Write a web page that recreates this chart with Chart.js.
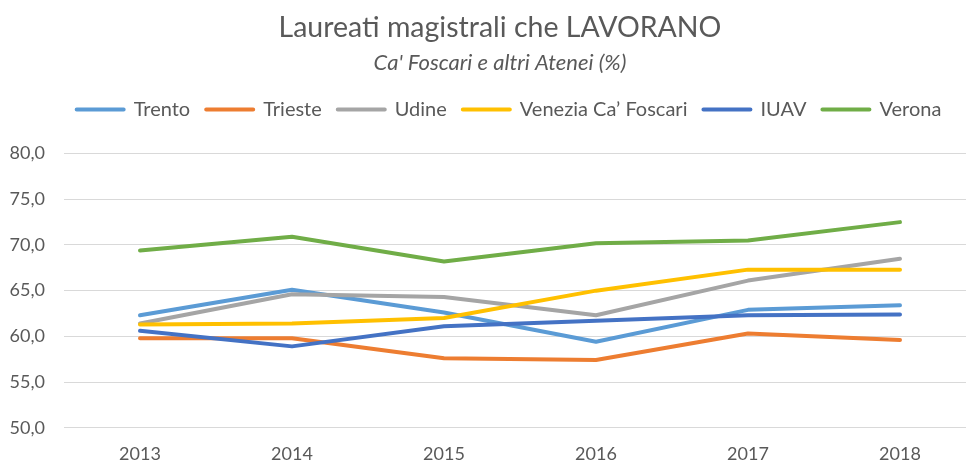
<!DOCTYPE html>
<html>
<head>
<meta charset="utf-8">
<script src="https://cdn.jsdelivr.net/npm/chart.js@4"></script>
<style>
    html, body { margin: 0; padding: 0; background: #fff; overflow: hidden; }
    #wrap { width: 1015px; height: 464px; }
</style>
</head>
<body>
<div id="wrap"><canvas id="chart" width="1015" height="464"></canvas></div>
<script>
// Values
const years = ['2013', '2014', '2015', '2016', '2017', '2018'];
const trento = [62.3, 65.1, 62.6, 59.4, 62.9, 63.4];
const trieste = [59.8, 59.8, 57.6, 57.4, 60.3, 59.6];
const udine = [61.4, 64.6, 64.3, 62.3, 66.1, 68.5];
const venezia = [61.3, 61.4, 62.0, 65.0, 67.3, 67.3];
const iuav = [60.6, 58.9, 61.1, 61.7, 62.3, 62.4];
const verona = [69.4, 70.9, 68.2, 70.2, 70.5, 72.5];
const yTicks = [50, 55, 60, 65, 70, 75, 80];

const textColor = '#595959';
const fontFamily = 'Lato, "Open Sans", sans-serif';

const series = [
    { label: 'Trento', data: trento, color: '#5B9BD5' },
    { label: 'Trieste', data: trieste, color: '#ED7D31' },
    { label: 'Udine', data: udine, color: '#A5A5A5' },
    { label: 'Venezia Ca\u2019 Foscari', data: venezia, color: '#FFC000' },
    { label: 'IUAV', data: iuav, color: '#4472C4' },
    { label: 'Verona', data: verona, color: '#70AD47' }
];

const datasets = series.map((s, i) => ({
    label: s.label,
    data: s.data,
    borderColor: s.color,
    backgroundColor: s.color,
    borderWidth: 4,
    borderCapStyle: 'round',
    borderJoinStyle: 'round',
    pointRadius: 0,
    tension: 0,
    fill: false,
    order: series.length - i // later series drawn on top, like the original
}));

// extra room under the legend, and title/legend centred a bit to the right
const headerTweaks = {
    id: 'headerTweaks',
    beforeInit(chart) {
        const fit = chart.legend.fit;
        chart.legend.fit = function () {
            fit.bind(chart.legend)();
            this.height += 24;
        };
    },
    afterLayout(chart) {
        chart.boxes.forEach(box => {
            if (box.position === 'top' && !box.axis) {
                box.left += (box === chart.legend) ? 42 : 24;
            }
        });
    }
};

new Chart(document.getElementById('chart'), {
    type: 'line',
    data: { labels: years, datasets: datasets },
    plugins: [headerTweaks],
    options: {
        responsive: false,
        animation: false,
        layout: { padding: { left: 0, right: 39, top: 0, bottom: 0 } },
        plugins: {
            title: {
                display: true,
                text: 'Laureati magistrali che LAVORANO',
                color: textColor,
                font: { family: fontFamily, size: 28.5, weight: 'normal' },
                padding: { top: 11, bottom: 0 }
            },
            subtitle: {
                display: true,
                text: 'Ca\' Foscari e altri Atenei (%)',
                color: textColor,
                font: { family: fontFamily, size: 22, style: 'italic' },
                padding: { top: 5, bottom: 7 }
            },
            legend: {
                position: 'top',
                labels: {
                    color: textColor,
                    font: { family: fontFamily, size: 20 },
                    boxWidth: 47,
                    boxHeight: 0,
                    padding: 16,
                    sort: (a, b) => a.datasetIndex - b.datasetIndex
                }
            },
            tooltip: { enabled: false }
        },
        scales: {
            x: {
                offset: true,
                afterFit: scale => { scale.height = 36.3; },
                grid: { display: false, drawTicks: false },
                border: { display: false },
                ticks: {
                    color: textColor,
                    font: { family: fontFamily, size: 18 },
                    padding: 16
                }
            },
            y: {
                min: 50,
                max: 80,
                afterFit: scale => { scale.width = 64; },
                afterBuildTicks: scale => { scale.ticks = yTicks.map(v => ({ value: v })); },
                grid: { color: '#D9D9D9', lineWidth: 1, drawTicks: false },
                border: { display: false },
                ticks: {
                    color: textColor,
                    font: { family: fontFamily, size: 18 },
                    padding: 19,
                    callback: v => v.toFixed(1).replace('.', ',')
                }
            }
        }
    }
});
</script>
</body>
</html>
